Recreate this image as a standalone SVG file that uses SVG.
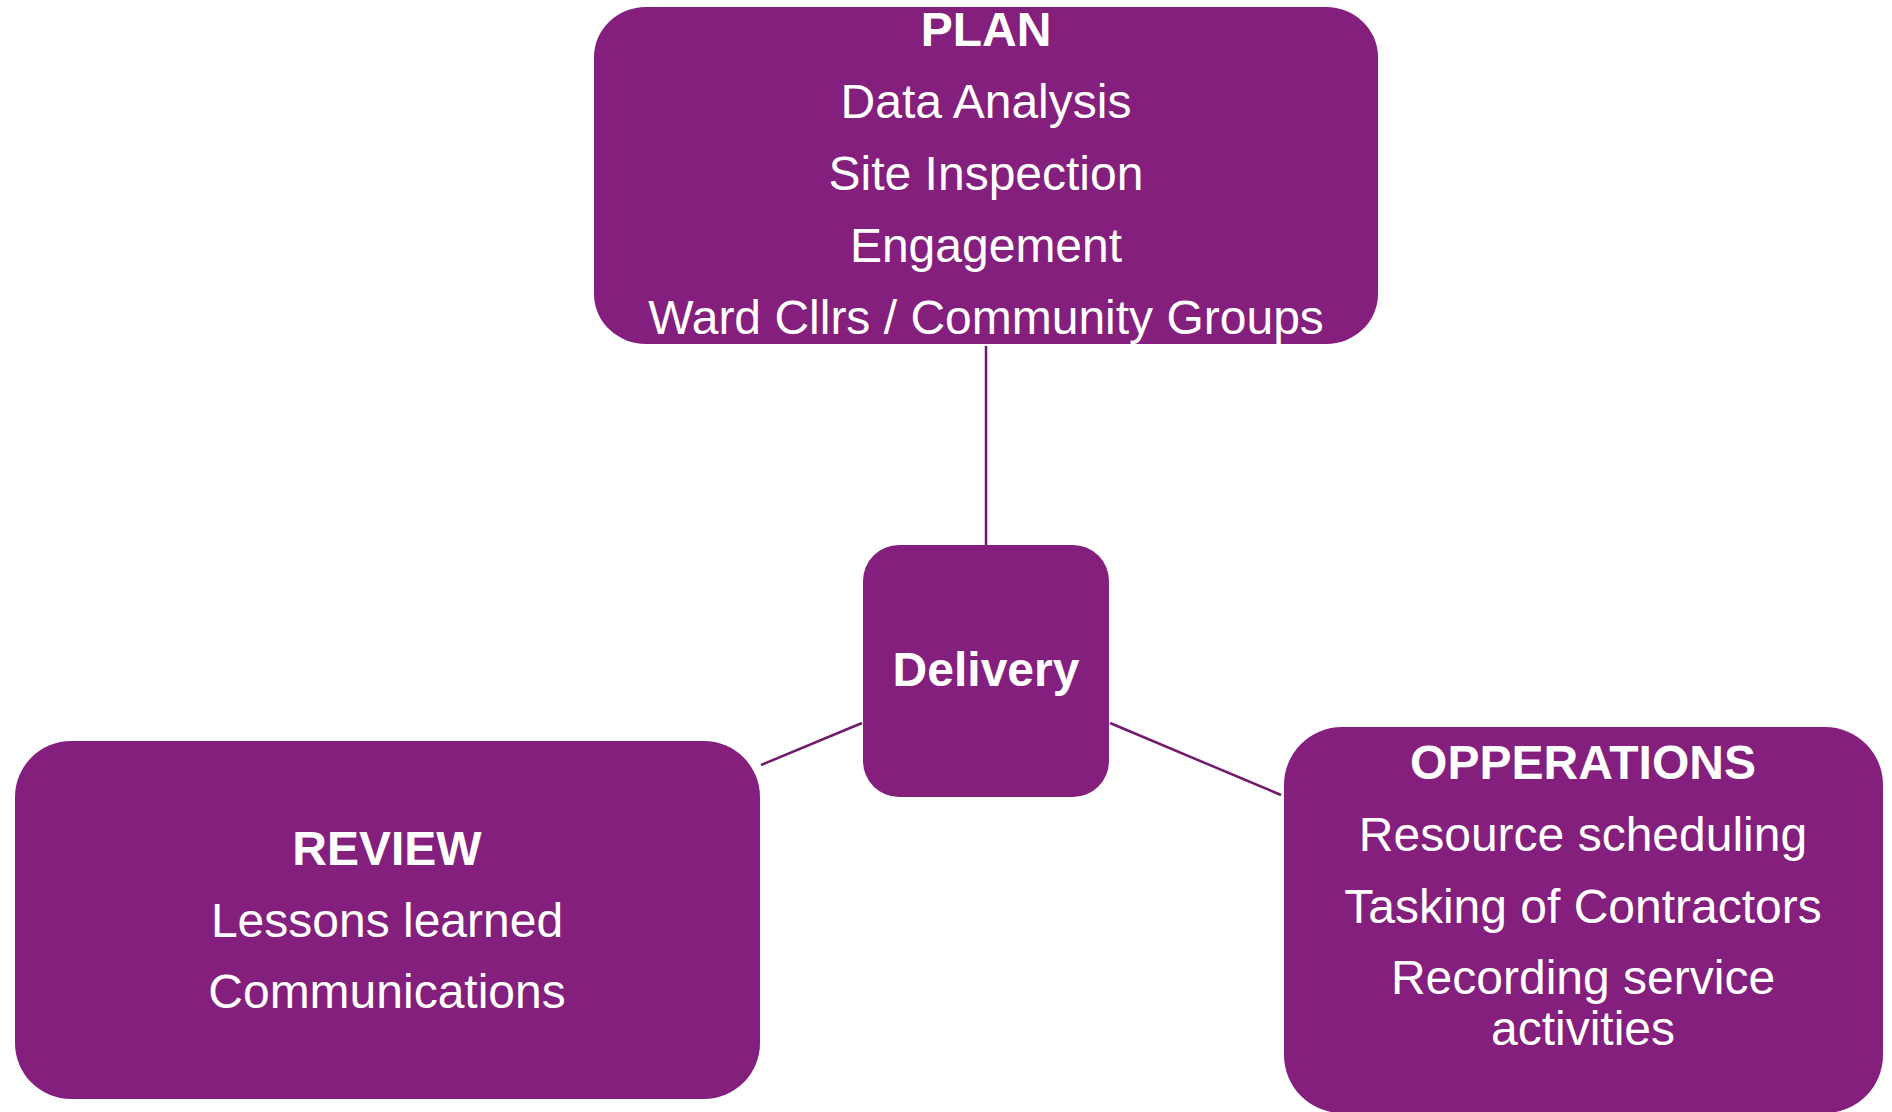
<svg xmlns="http://www.w3.org/2000/svg" width="1892" height="1112" viewBox="0 0 1892 1112">
<style>
.box{fill:#841F7E;}
.t{font-family:"Liberation Sans",Arial,sans-serif;font-size:48px;fill:#ffffff;text-anchor:middle;}
.b{font-weight:bold;}
.c{stroke:#701A6C;stroke-width:2.5;fill:none;}
</style>
<rect width="1892" height="1112" fill="#ffffff"/>
<g id="connectors">
<line class="c" x1="986" y1="346" x2="986" y2="545"/>
<line class="c" x1="761" y1="765" x2="862" y2="723"/>
<line class="c" x1="1110" y1="723" x2="1281" y2="795"/>
</g>
<g id="plan">
<rect class="box" x="594" y="7" width="784" height="337" rx="52" ry="50"/>
<text class="t b" x="986" y="46">PLAN</text>
<text class="t" x="986" y="118">Data Analysis</text>
<text class="t" x="986" y="190">Site Inspection</text>
<text class="t" x="986" y="262">Engagement</text>
<text class="t" x="986" y="334">Ward Cllrs / Community Groups</text>
</g>
<g id="delivery">
<rect class="box" x="863" y="545" width="246" height="252" rx="36" ry="36"/>
<text class="t b" x="986" y="686">Delivery</text>
</g>
<g id="review">
<rect class="box" x="15" y="741" width="745" height="358" rx="56" ry="56"/>
<text class="t b" x="387" y="865">REVIEW</text>
<text class="t" x="387" y="937">Lessons learned</text>
<text class="t" x="387" y="1008">Communications</text>
</g>
<g id="operations">
<rect class="box" x="1284" y="727" width="599" height="386" rx="58" ry="58"/>
<text class="t b" x="1583" y="779">OPPERATIONS</text>
<text class="t" x="1583" y="851">Resource scheduling</text>
<text class="t" x="1583" y="923">Tasking of Contractors</text>
<text class="t" x="1583" y="994">Recording service</text>
<text class="t" x="1583" y="1045">activities</text>
</g>
</svg>
